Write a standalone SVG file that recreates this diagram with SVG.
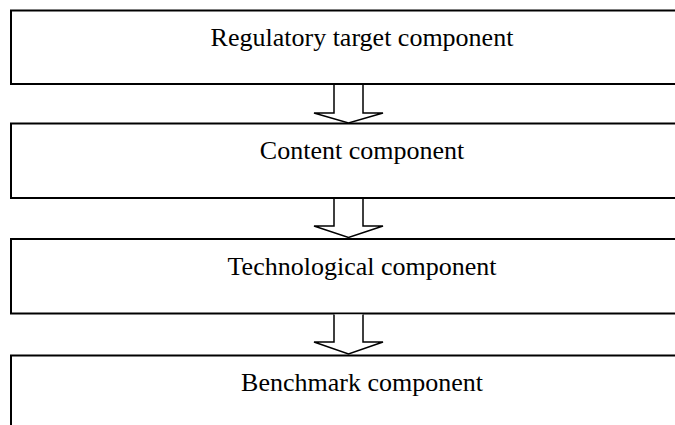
<svg xmlns="http://www.w3.org/2000/svg" width="675" height="425" viewBox="0 0 675 425">
<style>
.box{fill:#fff;stroke:#000;stroke-width:2}
.lbl{font-family:"Liberation Serif","Times New Roman",serif;font-size:26px;fill:#000;text-anchor:middle}
.arr{fill:#fff;stroke:#000;stroke-width:1.5;stroke-linejoin:miter}
</style>
<rect width="675" height="425" fill="#fff"/>
<g id="node-regulatory">
<rect class="box" x="11" y="10.5" width="690" height="73.5"/>
<text class="lbl" x="362" y="46">Regulatory target component</text>
</g>
<g id="node-content">
<rect class="box" x="11" y="123.5" width="690" height="74.5"/>
<text class="lbl" x="362" y="159">Content component</text>
</g>
<g id="node-technological">
<rect class="box" x="11" y="239" width="690" height="74.5"/>
<text class="lbl" x="362" y="275">Technological component</text>
</g>
<g id="node-benchmark">
<rect class="box" x="11" y="355.5" width="690" height="100"/>
<text class="lbl" x="362" y="391">Benchmark component</text>
</g>
<g id="connectors">
<path class="arr" d="M334,85 V113 H314 L348.5,123 L383,113 H363 V85"/>
<path class="arr" d="M334,199 V226 H314 L348.5,237.5 L383,226 H363 V199"/>
<path class="arr" d="M334,314.5 V342 H314 L348.5,354 L383,342 H363 V314.5"/>
</g>
</svg>
